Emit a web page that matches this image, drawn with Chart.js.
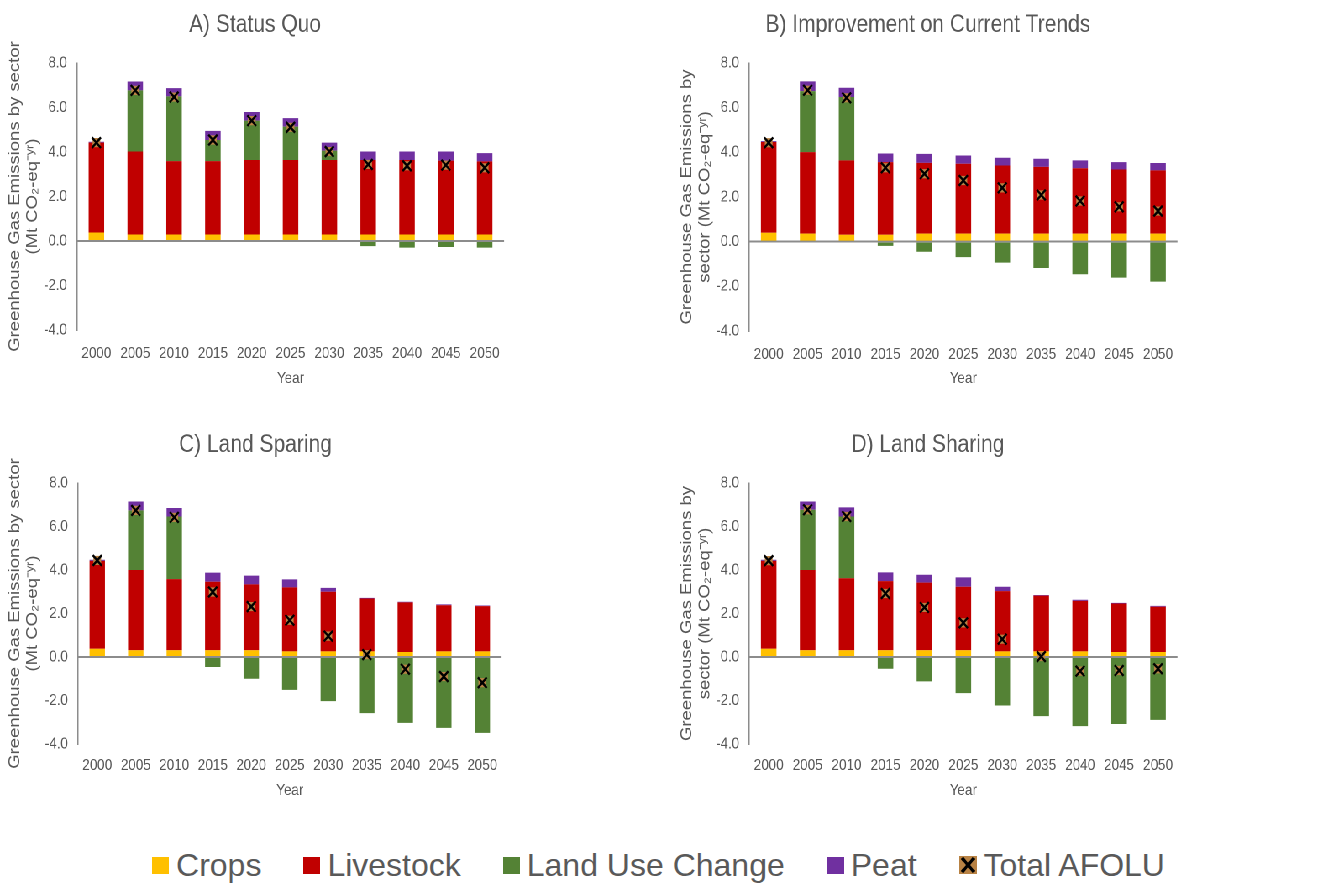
<!DOCTYPE html>
<html>
<head>
<meta charset="utf-8">
<title>AFOLU greenhouse gas emissions by sector</title>
<script src="https://cdn.jsdelivr.net/npm/chart.js@4.4.0/dist/chart.umd.min.js"></script>
<style>
  html, body { margin: 0; padding: 0; background: #fff; }
  #page { position: relative; width: 1317px; height: 883px; overflow: hidden; background: #fff; }
  #panels { position: absolute; left: 0; top: 0; height: 820px; transform-origin: 0 0; }
  #panels canvas { position: absolute; }
  #legend {
    position: absolute; left: 0; top: 843px; width: 1317px; height: 44px;
    display: flex; justify-content: center; align-items: center; gap: 42px;
    font: 32px 'Liberation Sans', Arial, sans-serif; color: #595959;
  }
  .item { display: flex; align-items: center; gap: 7px; white-space: nowrap; }
  .swatch { width: 17px; height: 17px; display: inline-block; }
</style>
</head>
<body>
<div id="page">
  <div id="panels"></div>
  <div id="legend"></div>
</div>
<script>
// ---- data -------------------------------------------------------------
const years = ['2000', '2005', '2010', '2015', '2020', '2025', '2030', '2035', '2040', '2045', '2050'];
const yTickValues = [-4, -2, 0, 2, 4, 6, 8];
const seriesNames = ['Crops', 'Livestock', 'Land Use Change', 'Peat', 'Total AFOLU'];
const panelTitles = ['A) Status Quo', 'B) Improvement on Current Trends', 'C) Land Sparing', 'D) Land Sharing'];
const yTitleLeft = ['Greenhouse Gas Emissions by sector', '(Mt CO\u2082-eq\u207B\u02B8\u02B3)'];
const yTitleRight = ['Greenhouse Gas Emissions by', 'sector (Mt CO\u2082-eq\u207B\u02B8\u02B3)'];
const xTitle = 'Year';

// A) Status Quo
const cropsA     = [0.38, 0.29, 0.29, 0.29, 0.29, 0.29, 0.29, 0.29, 0.29, 0.29, 0.29];
const livestockA = [4.04, 3.73, 3.30, 3.30, 3.35, 3.35, 3.35, 3.35, 3.35, 3.32, 3.29];
const landUseA   = [0.00, 2.75, 2.91, 0.95, 1.77, 1.50, 0.42, -0.23, -0.30, -0.27, -0.30];
const peatA      = [0.04, 0.40, 0.37, 0.41, 0.39, 0.38, 0.36, 0.38, 0.38, 0.41, 0.37];
const totalA     = [4.42, 6.77, 6.47, 4.54, 5.41, 5.11, 4.02, 3.44, 3.38, 3.41, 3.29];

// B) Improvement on Current Trends
const cropsB     = [0.40, 0.36, 0.31, 0.31, 0.36, 0.36, 0.36, 0.36, 0.36, 0.36, 0.36];
const livestockB = [4.06, 3.65, 3.33, 3.25, 3.17, 3.13, 3.05, 2.99, 2.93, 2.87, 2.83];
const landUseB   = [0.00, 2.73, 2.84, -0.19, -0.45, -0.69, -0.94, -1.18, -1.46, -1.61, -1.79];
const peatB      = [0.04, 0.44, 0.41, 0.39, 0.40, 0.37, 0.35, 0.36, 0.35, 0.33, 0.33];
const totalB     = [4.43, 6.78, 6.44, 3.31, 3.04, 2.74, 2.41, 2.09, 1.82, 1.56, 1.37];

// C) Land Sparing
const cropsC     = [0.38, 0.31, 0.31, 0.31, 0.31, 0.26, 0.26, 0.26, 0.23, 0.26, 0.26];
const livestockC = [4.04, 3.69, 3.27, 3.15, 3.03, 2.94, 2.74, 2.43, 2.28, 2.12, 2.08];
const landUseC   = [0.00, 2.74, 2.88, -0.46, -1.00, -1.51, -2.03, -2.58, -3.03, -3.26, -3.49];
const peatC      = [0.05, 0.41, 0.39, 0.42, 0.40, 0.37, 0.18, 0.03, 0.03, 0.04, 0.03];
const totalC     = [4.44, 6.74, 6.42, 2.99, 2.32, 1.69, 0.96, 0.11, -0.56, -0.90, -1.18];

// D) Land Sharing
const cropsD     = [0.38, 0.31, 0.31, 0.31, 0.31, 0.31, 0.26, 0.26, 0.26, 0.23, 0.23];
const livestockD = [4.04, 3.69, 3.31, 3.18, 3.11, 2.92, 2.77, 2.56, 2.32, 2.23, 2.08];
const landUseD   = [0.00, 2.77, 2.84, -0.54, -1.12, -1.66, -2.23, -2.72, -3.18, -3.08, -2.89];
const peatD      = [0.05, 0.38, 0.42, 0.40, 0.36, 0.43, 0.20, 0.03, 0.05, 0.03, 0.04];
const totalD     = [4.43, 6.77, 6.46, 2.92, 2.28, 1.57, 0.82, 0.02, -0.65, -0.62, -0.54];

// ---- styling ----------------------------------------------------------
const SX = 0.84;                 // horizontal squeeze applied to the panel block
const FONT = "'Liberation Sans', Arial, sans-serif";
const TEXT = '#575757';
const AXIS = '#8c8c8c';
const seriesColors = ['#FFC000', '#C00000', '#548235', '#7030A0', '#000000'];
const markerFill = '#b88244';

// panel boxes in page pixels
const panels = [
  { title: panelTitles[0], yTitle: yTitleLeft,  crops: cropsA, livestock: livestockA, landUse: landUseA, peat: peatA, total: totalA,
    box: { left: 0,   top: 0,   width: 556, height: 400 }, padL: 6,  padR: 52, padB: 12, yWidth: 71, xHeight: 58, tickPad: 6 },
  { title: panelTitles[1], yTitle: yTitleRight, crops: cropsB, livestock: livestockB, landUse: landUseB, peat: peatB, total: totalB,
    box: { left: 660, top: 0,   width: 534, height: 400 }, padL: 18, padR: 17, padB: 12, yWidth: 71, xHeight: 57, tickPad: 6 },
  { title: panelTitles[2], yTitle: yTitleLeft,  crops: cropsC, livestock: livestockC, landUse: landUseC, peat: peatC, total: totalC,
    box: { left: 0,   top: 420, width: 510, height: 400 }, padL: 6,  padR: 5,  padB: 20, yWidth: 72, xHeight: 56, tickPad: 4 },
  { title: panelTitles[3], yTitle: yTitleRight, crops: cropsD, livestock: livestockD, landUse: landUseD, peat: peatD, total: totalD,
    box: { left: 660, top: 420, width: 534, height: 400 }, padL: 18, padR: 17, padB: 20, yWidth: 71, xHeight: 56, tickPad: 4 }
];

const holder = document.getElementById('panels');
holder.style.width = (1317 / SX) + 'px';
holder.style.transform = 'scaleX(' + SX + ')';

function barSet(label, data, color) {
  return { type: 'bar', label, data, backgroundColor: color, borderWidth: 0,
           stack: 'sectors', order: 2, barPercentage: 0.4, categoryPercentage: 1.0 };
}

panels.forEach(p => {
  const canvas = document.createElement('canvas');
  const w = Math.round(p.box.width / SX);
  canvas.width = w;
  canvas.height = p.box.height;
  canvas.style.left = (p.box.left / SX) + 'px';
  canvas.style.top = p.box.top + 'px';
  holder.appendChild(canvas);

  new Chart(canvas, {
    data: {
      labels: years,
      datasets: [
        barSet(seriesNames[0], p.crops, seriesColors[0]),
        barSet(seriesNames[1], p.livestock, seriesColors[1]),
        barSet(seriesNames[2], p.landUse, seriesColors[2]),
        barSet(seriesNames[3], p.peat, seriesColors[3]),
        { type: 'line', label: seriesNames[4], data: p.total, showLine: false, stack: 'totalFill', order: 1,
          pointStyle: 'rect', pointRadius: 6.5, pointBackgroundColor: markerFill, pointBorderWidth: 0 },
        { type: 'line', label: seriesNames[4], data: p.total, showLine: false, stack: 'totalMark', order: 0,
          pointStyle: 'crossRot', pointRadius: 7.5, pointBorderColor: seriesColors[4], pointBorderWidth: 2.4 }
      ]
    },
    options: {
      responsive: false,
      devicePixelRatio: 2,
      animation: false,
      events: [],
      font: { family: FONT },
      layout: { padding: { left: p.padL / SX, right: p.padR / SX, top: 0, bottom: p.padB } },
      plugins: {
        legend: { display: false },
        tooltip: { enabled: false },
        title: { display: true, text: p.title, color: TEXT,
                 font: { family: FONT, size: 25, weight: 'normal', lineHeight: 1.2 },
                 padding: { top: 10, bottom: 23 } }
      },
      scales: {
        x: {
          stacked: true,
          offset: true,
          grid: { display: false },
          border: { display: false },
          ticks: { color: TEXT, font: { family: FONT, size: 16 }, padding: p.tickPad, maxRotation: 0, autoSkip: false },
          title: { display: true, text: xTitle, color: TEXT, font: { family: FONT, size: 16, lineHeight: 1.2 },
                   padding: { top: 0, bottom: 0 } },
          afterFit: s => { s.height = p.xHeight; }
        },
        y: {
          stacked: true,
          min: yTickValues[0],
          max: yTickValues[yTickValues.length - 1],
          afterBuildTicks: s => { s.ticks = yTickValues.map(v => ({ value: v })); },
          border: { display: true, color: AXIS, width: 1.5 },
          grid: {
            drawTicks: false,
            lineWidth: 2,
            color: c => (c.tick && c.tick.value === 0 ? AXIS : 'rgba(0,0,0,0)')
          },
          ticks: { color: TEXT, font: { family: FONT, size: 16 }, padding: 10 / SX,
                   callback: v => Number(v).toFixed(1) },
          title: { display: true, text: p.yTitle, color: TEXT,
                   font: { family: FONT, size: 18.5, lineHeight: 1.15 },
                   padding: { top: 0, bottom: 0 } },
          afterFit: s => { s.width = p.yWidth / SX; }
        }
      }
    }
  });
});

// ---- legend -------------------------------------------------------------
const legend = document.getElementById('legend');
seriesNames.forEach((name, i) => {
  const item = document.createElement('div');
  item.className = 'item';
  let key;
  if (i < 4) {
    key = document.createElement('span');
    key.className = 'swatch';
    key.style.background = seriesColors[i];
  } else {
    key = document.createElementNS('http://www.w3.org/2000/svg', 'svg');
    key.setAttribute('width', '18');
    key.setAttribute('height', '18');
    key.innerHTML = '<rect x="0" y="0" width="18" height="18" fill="' + markerFill + '"/>' +
      '<path d="M3 2 L15 16 M15 2 L3 16" stroke="#000" stroke-width="3.2"/>';
  }
  const txt = document.createElement('span');
  txt.textContent = name;
  item.appendChild(key);
  item.appendChild(txt);
  legend.appendChild(item);
});
</script>
</body>
</html>
